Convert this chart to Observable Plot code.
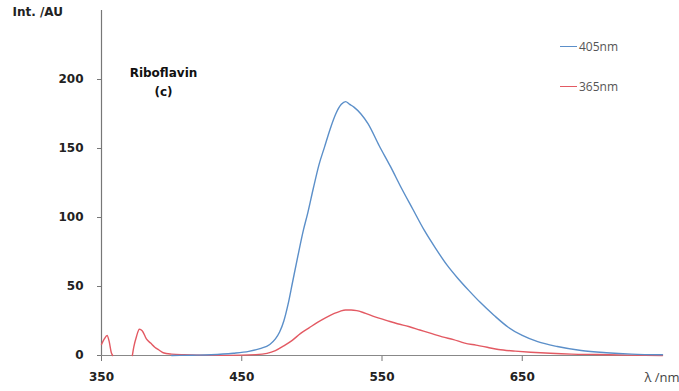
<!DOCTYPE html>
<html>
<head>
<meta charset="utf-8">
<script src="https://cdn.jsdelivr.net/npm/d3@7"></script>
<script src="https://cdn.jsdelivr.net/npm/@observablehq/plot@0.6"></script>
<style>
  html, body { margin: 0; padding: 0; background: #fff; }
  #wrap { position: relative; width: 679px; height: 391px; }
  .leg { position: absolute; font-family: "Open Sans", "DejaVu Sans", sans-serif; font-size: 12px; color: #555; display: flex; align-items: center; }
  .leg span.sw { display: inline-block; width: 17px; height: 0; border-top: 1.5px solid; margin-right: 2px; }
</style>
</head>
<body>
<div id="wrap"></div>
<script>
// Wavelengths (nm) and intensities (AU)
const blueLambda = [400, 415, 428, 444, 455, 463, 470, 474, 477, 480, 483, 486, 490, 494, 497, 501, 505, 509, 513, 517, 521, 524, 527, 530, 535, 540, 548, 556, 564, 572, 580, 588, 596, 604, 612, 620, 630, 640, 650, 661, 675, 692, 710, 728, 750];
const blueValue  = [0, 0.2, 0.5, 1.6, 3, 5, 8, 12, 17, 25, 37, 52, 72, 91, 103, 121, 138, 151, 164, 175, 182, 184, 182, 180, 175, 168, 152, 137, 121, 106, 91, 78, 66, 56, 47, 38.5, 29, 20.5, 14.5, 10, 6.5, 3.6, 2, 1, 0.5];
const redLambda  = [350, 352, 354, 355.5, 357, 358, null, 372, 373, 375, 377, 379, 382, 385, 388, 391, 394, 400, 409, 420, 440, 460, 468, 474, 480, 486, 492, 498, 504, 510, 516, 520, 524, 528, 532, 537, 545, 553, 561, 569, 577, 585, 593, 601, 609, 617, 625, 633, 645, 656, 670, 685, 704, 725, 750];
const redValue   = [8, 12, 14.5, 10, 2, 0, null, 0, 6, 14, 19, 18, 12, 9, 6, 4, 2, 1, 0.5, 0.2, 0.1, 0.6, 1.5, 3.5, 7, 11, 16, 20, 24, 27.5, 30.5, 32, 33, 33, 32.5, 31, 28, 25.5, 23, 21, 18.5, 16, 13.5, 11.5, 9, 7.5, 6, 4.3, 3.2, 2.4, 1.6, 1, 0.7, 0.3, 0];
const xTicks = [350, 450, 550, 650];
const yTicks = [0, 50, 100, 150, 200];
const seriesNames = ["405nm", "365nm"];
const seriesColors = ["#5b8fc9", "#e35a63"];

const blue = blueLambda.map((x, i) => ({x, y: blueValue[i]}));
const red = redLambda.map((x, i) => ({x: x === null ? NaN : x, y: redValue[i] === null ? NaN : redValue[i]}));

const boldFont = "DejaVu Sans, sans-serif";

const chart = Plot.plot({
  width: 679,
  height: 391,
  marginLeft: 101,
  marginRight: 17,
  marginTop: 10,
  marginBottom: 36,
  style: { fontFamily: boldFont, background: "#fff", overflow: "visible" },
  x: { domain: [350, 750] },
  y: { domain: [0, 250] },
  marks: [
    Plot.axisX({ ticks: xTicks, tickSize: 6, tickPadding: 11, tickFormat: d => String(d), fontSize: 12, fontWeight: "bold", fill: "#222", stroke: "#777", label: null }),
    Plot.axisY({ ticks: yTicks, tickSize: 4, tickPadding: 14, tickFormat: d => String(d), fontSize: 12, fontWeight: "bold", fill: "#222", stroke: "#777", label: null }),
    Plot.ruleX([350], { stroke: "#777", strokeWidth: 1.2 }),
    Plot.ruleY([0], { stroke: "#888", strokeWidth: 1.2 }),
    Plot.line(red, { x: "x", y: "y", stroke: seriesColors[1], strokeWidth: 1.4, curve: "monotone-x" }),
    Plot.line(blue, { x: "x", y: "y", stroke: seriesColors[0], strokeWidth: 1.4, curve: "monotone-x" }),
    Plot.text(["Int. /AU"], { frameAnchor: "top-left", dx: -89, dy: -3, fontSize: 12, fontWeight: "bold", fill: "#222", textAnchor: "start" }),
    Plot.text(["Riboflavin"], { frameAnchor: "top-left", dx: 62, dy: 58, fontSize: 12, fontWeight: "bold", fill: "#111", textAnchor: "middle" }),
    Plot.text(["(c)"], { frameAnchor: "top-left", dx: 62, dy: 77, fontSize: 12, fontWeight: "bold", fill: "#111", textAnchor: "middle" }),
    Plot.text(["λ /nm"], { frameAnchor: "bottom-right", dx: 17, dy: 26, fontSize: 13, fill: "#444", textAnchor: "end", fontFamily: "Open Sans, sans-serif" })
  ]
});

const wrap = document.getElementById("wrap");
wrap.appendChild(chart);

const legTops = [38, 78];
seriesNames.forEach((name, i) => {
  const d = document.createElement("div");
  d.className = "leg";
  d.style.left = "560px";
  d.style.top = legTops[i] + "px";
  d.innerHTML = `<span class="sw" style="border-color:${seriesColors[i]}"></span>${name}`;
  wrap.appendChild(d);
});
</script>
</body>
</html>
